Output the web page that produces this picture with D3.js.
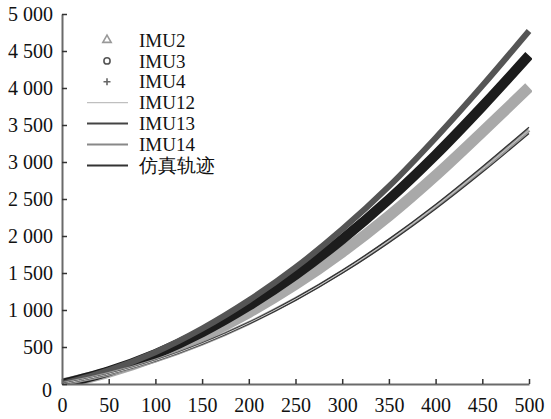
<!DOCTYPE html>
<html>
<head>
<meta charset="utf-8">
<script src="https://cdn.jsdelivr.net/npm/d3@7"></script>
<style>
  body { margin: 0; background: #fff; }
  svg text { font-family: "Times New Roman", Times, "Liberation Serif", serif !important; }
</style>
</head>
<body>
<div id="chart-area"></div>
<script>
// x positions (time steps)
var xVals = [0, 50, 100, 150, 200, 250, 300, 350, 400, 450, 500];

// series
var imu4  = [0, 183, 430, 748, 1130, 1575, 2090, 2670, 3325, 4030, 4770];
var imu3  = [0, 172, 405, 700, 1058, 1475, 1955, 2495, 3095, 3750, 4440];
var imu2  = [0, 158, 370, 640, 965, 1345, 1780, 2270, 2815, 3405, 4010];
var imu13 = [0, 136, 320, 552, 832, 1160, 1535, 1958, 2425, 2935, 3470];
var imu14 = [0, 135, 316, 546, 823, 1147, 1518, 1936, 2399, 2902, 3432];
var imu12 = [0, 135, 316, 546, 823, 1147, 1518, 1936, 2399, 2902, 3432];
var sim   = [0, 133, 312, 538, 811, 1130, 1496, 1908, 2364, 2860, 3385];

var xTicks = [0, 50, 100, 150, 200, 250, 300, 350, 400, 450, 500];
var yTicks = [0, 500, 1000, 1500, 2000, 2500, 3000, 3500, 4000, 4500, 5000];

var legendNames = ["IMU2", "IMU3", "IMU4", "IMU12", "IMU13", "IMU14", "仿真轨迹"];

var svg = d3.select("#chart-area").append("svg")
    .attr("width", 551)
    .attr("height", 419);

var x = d3.scaleLinear().domain([0, 500]).range([62, 529]);
var y = d3.scaleLinear().domain([0, 5000]).range([384, 14]);

var loc = d3.formatLocale({decimal: ".", thousands: " ", grouping: [3], currency: ["", ""]});
var fmt = loc.format(",");

var line = d3.line()
    .x((d, i) => x(xVals[i]))
    .y((d) => y(d))
    .curve(d3.curveCatmullRom);

// curves: bands first, thin lines on top
var curves = [
    {data: imu2,  color: "#a9a9a9", width: 11},
    {data: imu3,  color: "#1c1c1c", width: 10},
    {data: imu4,  color: "#555555", width: 6},
    {data: imu14, color: "#9a9a9a", width: 4},
    {data: imu13, color: "#333333", width: 1.3},
    {data: sim,   color: "#333333", width: 1.3},
    {data: imu12, color: "#c8c8c8", width: 1}
];

svg.append("clipPath").attr("id", "clip")
    .append("rect").attr("x", 62).attr("y", 0).attr("width", 470).attr("height", 384);

curves.forEach((c) => {
    svg.append("path")
        .attr("clip-path", "url(#clip)")
        .attr("d", line(c.data))
        .attr("fill", "none")
        .attr("stroke", c.color)
        .attr("stroke-width", c.width);
});

// axes
var xAxis = svg.append("g")
    .attr("transform", "translate(0,384)")
    .call(d3.axisBottom(x).tickValues(xTicks).tickSizeInner(-5).tickSizeOuter(0).tickPadding(14));

var yAxis = svg.append("g")
    .attr("transform", "translate(62,0)")
    .call(d3.axisLeft(y).tickValues(yTicks).tickSizeInner(-5).tickSizeOuter(0).tickPadding(9).tickFormat(fmt));

[xAxis, yAxis].forEach((a) => {
    a.select(".domain").attr("stroke", "#6a6a6a").attr("stroke-width", 2);
    a.selectAll(".tick line").attr("stroke", "#333").attr("stroke-width", 1.5);
    a.selectAll(".tick text").attr("fill", "#111").style("font-size", "20px");
});
yAxis.selectAll(".tick text").filter((d) => d === 0)
    .attr("x", -10).attr("dy", "0.6em");

// legend
var lg = svg.append("g");
legendNames.forEach((name, i) => {
    var cy = 40 + i * 20.9;
    lg.append("text")
        .attr("x", 139)
        .attr("y", cy)
        .attr("dy", "0.35em")
        .style("font-size", "19px")
        .attr("fill", "#111")
        .text(name);
});

var sym = [d3.symbolTriangle, d3.symbolCircle];
var symColor = ["#999", "#555", "#666"];
sym.forEach((s, i) => {
    lg.append("path")
        .attr("transform", "translate(107," + (40 + i * 20.9) + ")")
        .attr("d", d3.symbol().type(s).size(30)())
        .attr("fill", "none").attr("stroke", symColor[i]).attr("stroke-width", 1.6);
});
lg.append("path")
    .attr("transform", "translate(107," + (40 + 2 * 20.9) + ")")
    .attr("d", "M-3.5,0H3.5M0,-3.5V3.5")
    .attr("fill", "none")
    .attr("stroke", symColor[2]).attr("stroke-width", 1.6);

var lineKeys = [
    {color: "#b0b0b0", width: 1},
    {color: "#444", width: 2},
    {color: "#888", width: 2},
    {color: "#333", width: 2}
];
lineKeys.forEach((k, i) => {
    var cy = 40 + (i + 3) * 20.9;
    lg.append("line")
        .attr("x1", 87).attr("x2", 128)
        .attr("y1", cy).attr("y2", cy)
        .attr("stroke", k.color)
        .attr("stroke-width", k.width);
});
</script>
</body>
</html>
